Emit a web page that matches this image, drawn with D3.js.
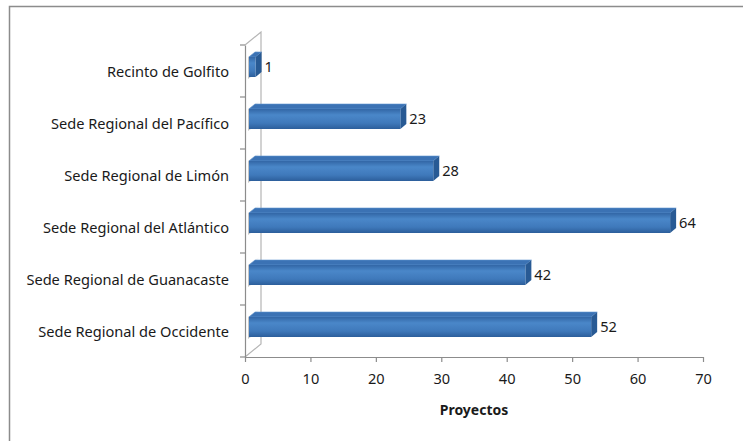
<!DOCTYPE html>
<html><head><meta charset="utf-8">
<script src="https://cdn.jsdelivr.net/npm/d3@7"></script>
<style>body{margin:0;background:#fff}svg{display:block}text{font-family:"Noto Sans",sans-serif;fill:#1a1a1a}</style>
</head><body><svg id="c" width="743" height="441"></svg>
<script>
const categories = ["Recinto de Golfito","Sede Regional del Pacífico","Sede Regional de Limón","Sede Regional del Atlántico","Sede Regional de Guanacaste","Sede Regional de Occidente"];
const values = [1,23,28,64,42,52];
const tickValues = [0,10,20,30,40,50,60,70];
const axisTitle = "Proyectos";

const svg = d3.select("#c");
const x = d3.scaleLinear().domain([0,70]).range([245,703]);
const xBar = d3.scaleLinear().domain([0,70]).range([249,709.6]);
const y = d3.scaleBand().domain(categories).range([45,357]);
const bdx = 6, bdy = -5;      // bar depth
const wdx = 16, wdy = -13;    // wall depth

const defs = svg.append("defs");
const gf = defs.append("linearGradient").attr("id","gFront").attr("x1",0).attr("y1",0).attr("x2",0).attr("y2",1);
gf.append("stop").attr("offset","0%").attr("stop-color","#3266a6");
gf.append("stop").attr("offset","30%").attr("stop-color","#4a87c9");
gf.append("stop").attr("offset","70%").attr("stop-color","#3f79bb");
gf.append("stop").attr("offset","100%").attr("stop-color","#2c5e9b");
const gs = defs.append("linearGradient").attr("id","gShadow").attr("x1",0).attr("y1",0).attr("x2",1).attr("y2",0);
gs.append("stop").attr("offset","0%").attr("stop-color","#c4c4c4");
gs.append("stop").attr("offset","100%").attr("stop-color","#ffffff");

// outer border
svg.append("rect").attr("x",9.5).attr("y",6.5).attr("width",760).attr("height",460)
  .attr("fill","none").attr("stroke","#8c8c8c").attr("stroke-width",1.5);

// side wall
const wall = svg.append("g");
const top0 = y.range()[0], bot0 = y.range()[1];
wall.selectAll("path.sh").data(categories).join("path").attr("class","sh")
  .attr("d",d=>{const c=y(d)+y.bandwidth()/2; const t=c-14, b=c+6;
     return `M${x(0)+3},${t} L${x(0)+wdx-2},${t-8} L${x(0)+wdx-2},${b-6} L${x(0)+3},${b+2} Z`;})
  .attr("fill","url(#gShadow)");
wall.append("path").attr("d",`M${x(0)},${top0} L${x(0)+wdx},${top0+wdy} L${x(0)+wdx},${bot0+wdy} L${x(0)},${bot0}`)
  .attr("fill","none").attr("stroke","#b5b5b5").attr("stroke-width",1.2);

// bars
const bars = svg.append("g");
const bd = categories.map((c,i)=>({c,v:values[i]}));
const bg = bars.selectAll("g").data(bd).join("g");
const ft = d=>y(d.c)+y.bandwidth()/2-14, fb = d=>y(d.c)+y.bandwidth()/2+6;
bg.append("path").attr("d",d=>`M${xBar(0)},${ft(d)} L${xBar(0)+bdx},${ft(d)+bdy} L${xBar(d.v)+bdx},${ft(d)+bdy} L${xBar(d.v)},${ft(d)} Z`)
  .attr("fill","#3b72b4").attr("stroke","#6096d2").attr("stroke-width",0.6);
bg.append("path").attr("d",d=>`M${xBar(d.v)},${ft(d)} L${xBar(d.v)+bdx},${ft(d)+bdy} L${xBar(d.v)+bdx},${fb(d)+bdy} L${xBar(d.v)},${fb(d)} Z`)
  .attr("fill","#285a94");
bg.append("rect").attr("x",xBar(0)).attr("y",ft).attr("width",d=>xBar(d.v)-xBar(0)).attr("height",d=>fb(d)-ft(d))
  .attr("fill","url(#gFront)");
bg.append("text").attr("x",d=>xBar(d.v)+bdx+3).attr("y",d=>y(d.c)+y.bandwidth()/2-3)
  .attr("dominant-baseline","middle").attr("font-size",14.6).text(d=>d.v);

// y axis
const ya = svg.append("g").attr("transform",`translate(${x(0)},0)`)
  .call(d3.axisLeft(y).tickSize(0).tickPadding(16));
ya.select(".domain").attr("stroke","#8c8c8c").attr("stroke-width",1.2);
ya.selectAll("text").attr("font-size",14.6).attr("dy","0.4em").style("font-family","'Noto Sans',sans-serif");
svg.append("g").selectAll("line").data(categories.map(c=>y(c)).concat([bot0])).join("line")
  .attr("x1",x(0)-5).attr("x2",x(0)).attr("y1",d=>d).attr("y2",d=>d).attr("stroke","#8c8c8c").attr("stroke-width",1.2);

// x axis
const xa = svg.append("g").attr("transform",`translate(0,${bot0})`)
  .call(d3.axisBottom(x).tickValues(tickValues).tickSize(5).tickPadding(12).tickSizeOuter(0));
xa.select(".domain").attr("stroke","#8c8c8c").attr("stroke-width",1.2);
xa.selectAll("line").attr("stroke","#8c8c8c").attr("stroke-width",1.2);
xa.selectAll("text").attr("font-size",14.6).style("font-family","'Noto Sans',sans-serif");

svg.append("text").attr("x",(x(0)+x(70))/2).attr("y",415).attr("text-anchor","middle")
  .attr("font-size",14).attr("font-weight","bold").text(axisTitle);
</script></body></html>
